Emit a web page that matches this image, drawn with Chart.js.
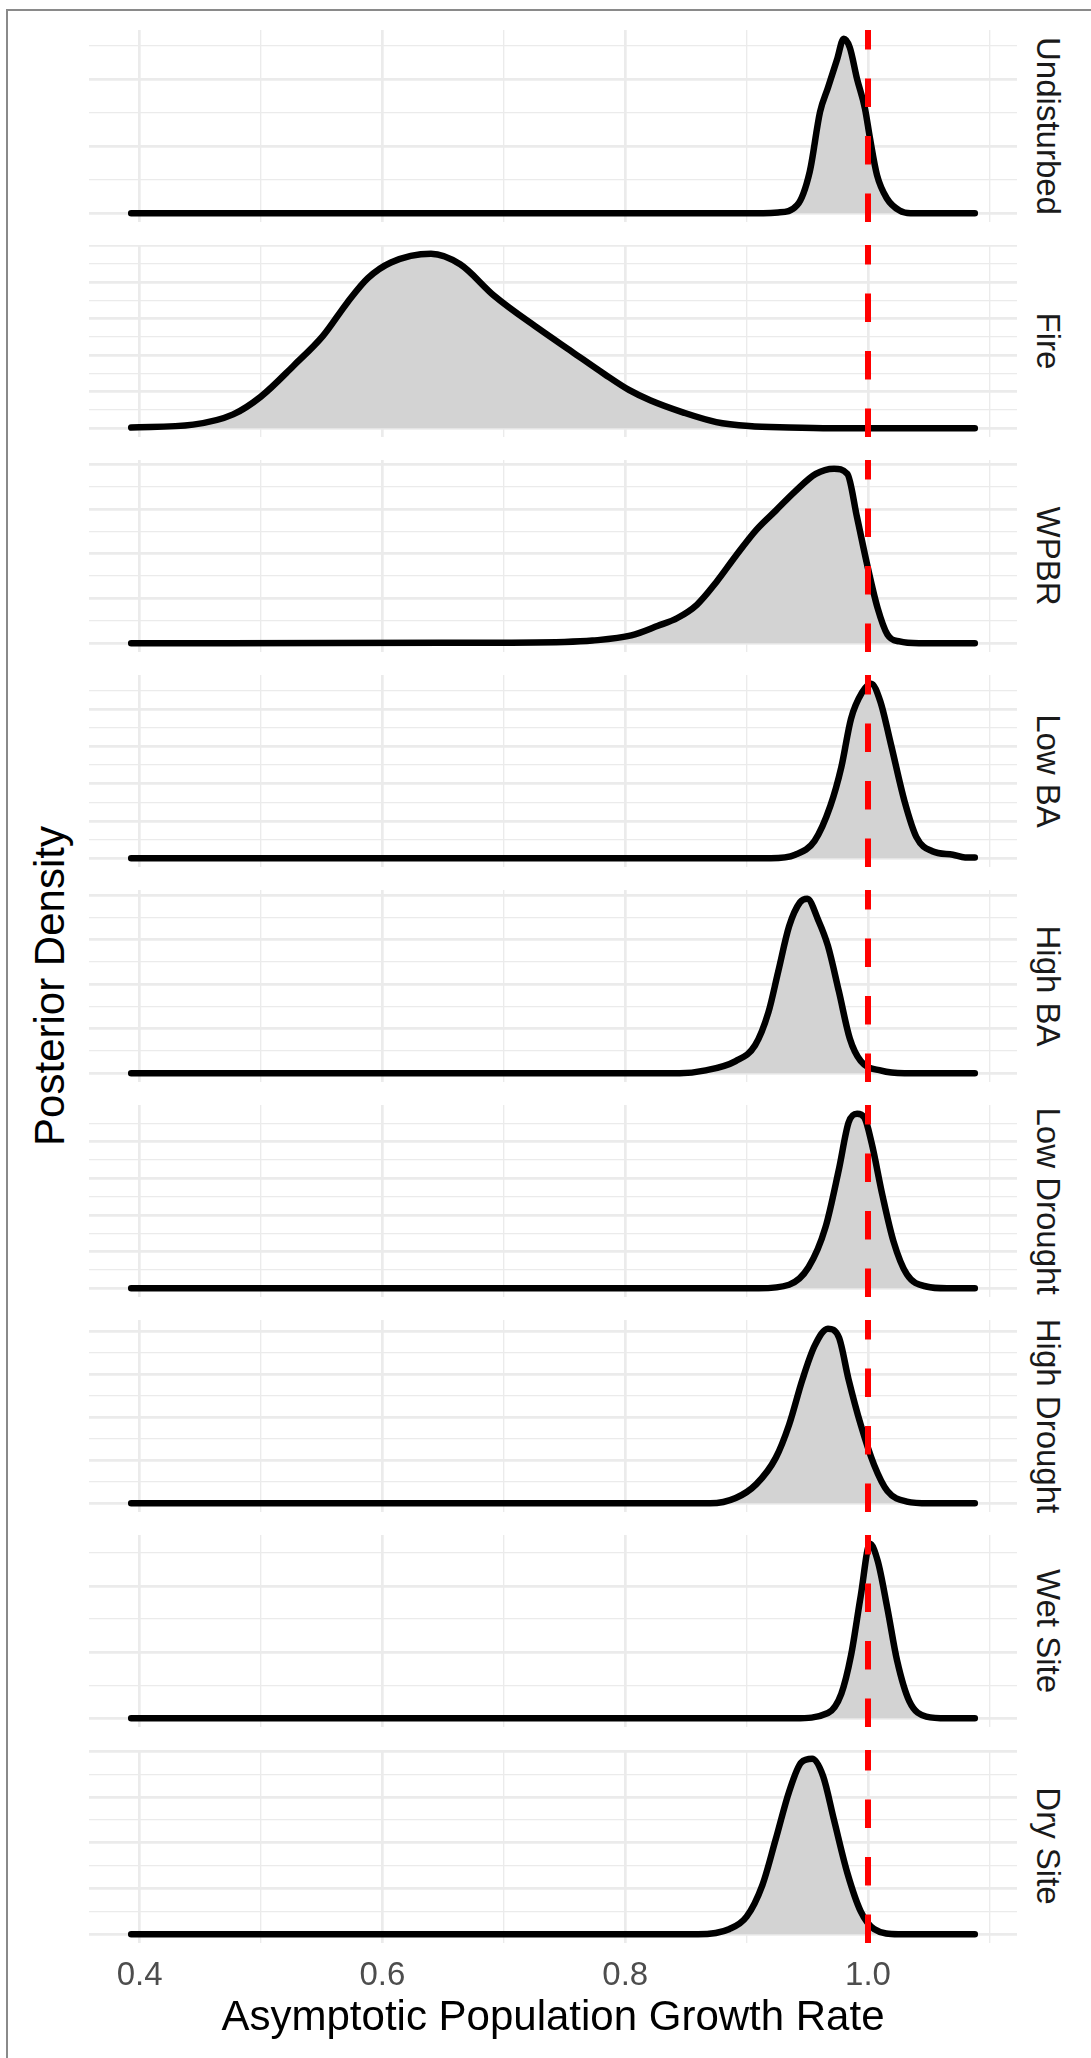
<!DOCTYPE html>
<html>
<head>
<meta charset="utf-8">
<script src="https://cdn.jsdelivr.net/npm/chart.js@4.4.1/dist/chart.umd.min.js"></script>
<style>
  html, body { margin: 0; padding: 0; background: #fff; }
  #page { position: relative; width: 1091px; height: 2058px; overflow: hidden; font-family: "Liberation Sans", Arial, sans-serif; }
  #frame { position: absolute; left: 6px; top: 9px; width: 1200px; height: 2200px; border-left: 2px solid #8a8a8a; border-top: 2px solid #8a8a8a; }
  canvas { position: absolute; left: 89px; }
  .rot { position: absolute; white-space: nowrap; line-height: 1; }
</style>
</head>
<body>
<div id="page"><div id="frame"></div></div>
<script>
const treatments = ["Undisturbed", "Fire", "WPBR", "Low BA", "High BA", "Low Drought", "High Drought", "Wet Site", "Dry Site"];

const undisturbedX = [0.393, 0.90, 0.926, 0.9416, 0.952, 0.9605, 0.967, 0.9745, 0.980, 0.985, 0.991, 0.9975, 1.0016, 1.0074, 1.0156, 1.026, 1.035, 1.088];
const undisturbedY = [0, 0, 0.13, 1.2, 6.2, 15.1, 18.7, 22.9, 26.0, 24.7, 20.0, 15.6, 11.2, 5.7, 2.2, 0.4, 0, 0];

const fireX = [0.393, 0.444, 0.477, 0.4996, 0.527, 0.551, 0.571, 0.588, 0.607, 0.640, 0.664, 0.692, 0.729, 0.756, 0.783, 0.803, 0.821, 0.848, 0.875, 0.902, 0.935, 0.97, 1.088];
const fireY = [0.02, 0.1, 0.38, 0.86, 1.72, 2.53, 3.44, 4.11, 4.54, 4.78, 4.49, 3.63, 2.72, 2.10, 1.48, 1.05, 0.76, 0.43, 0.17, 0.06, 0.02, 0, 0];

const wpbrX = [0.393, 0.65, 0.75, 0.773, 0.805, 0.827, 0.843, 0.859, 0.875, 0.891, 0.908, 0.924, 0.94, 0.957, 0.972, 0.983, 0.991, 0.999, 1.008, 1.016, 1.026, 1.042, 1.088];
const wpbrY = [0, 0.02, 0.06, 0.12, 0.35, 0.78, 1.13, 1.72, 2.73, 3.9, 5.07, 5.93, 6.79, 7.57, 7.8, 7.57, 5.62, 3.59, 1.56, 0.39, 0.08, 0, 0];

const lowBaX = [0.393, 0.92, 0.94, 0.956, 0.969, 0.978, 0.986, 0.995, 1.0026, 1.010, 1.019, 1.03, 1.04, 1.053, 1.07, 1.08, 1.088];
const lowBaY = [0, 0, 0.47, 2.34, 7.02, 12.2, 18.7, 22.2, 23.4, 21.1, 15.2, 7.7, 2.8, 0.94, 0.47, 0.12, 0.12];

const highBaX = [0.393, 0.845, 0.865, 0.891, 0.907, 0.918, 0.926, 0.935, 0.944, 0.950, 0.959, 0.967, 0.976, 0.985, 0.994, 1.011, 1.03, 1.088];
const highBaY = [0, 0, 0.29, 1.37, 3.14, 6.86, 11.4, 16.5, 19.2, 19.6, 17.2, 14.3, 9.2, 3.9, 1.37, 0.29, 0, 0];

const lowDroughtX = [0.393, 0.91, 0.935, 0.951, 0.965, 0.976, 0.984, 0.991, 0.997, 1.003, 1.012, 1.021, 1.032, 1.048, 1.065, 1.088];
const lowDroughtY = [0, 0, 0.48, 2.86, 8.33, 16.2, 22.6, 23.8, 23.3, 19.8, 12.6, 6.4, 1.9, 0.24, 0, 0];

const highDroughtX = [0.393, 0.87, 0.891, 0.908, 0.924, 0.935, 0.946, 0.956, 0.967, 0.976, 0.984, 0.994, 1.005, 1.016, 1.032, 1.05, 1.088];
const highDroughtY = [0, 0, 0.61, 2.23, 5.28, 9.14, 14.4, 18.3, 20.3, 19.3, 14.4, 9.14, 4.47, 1.42, 0.2, 0, 0];

const wetSiteX = [0.393, 0.94, 0.967, 0.978, 0.986, 0.994, 1.0016, 1.008, 1.016, 1.024, 1.034, 1.048, 1.065, 1.088];
const wetSiteY = [0, 0, 0.79, 3.7, 9.5, 18.5, 26.4, 23.8, 16.6, 8.7, 2.6, 0.26, 0, 0];

const drySiteX = [0.393, 0.86, 0.886, 0.9, 0.913, 0.924, 0.935, 0.945, 0.954, 0.963, 0.972, 0.983, 0.994, 1.005, 1.025, 1.088];
const drySiteY = [0, 0, 0.58, 1.92, 5.38, 10.4, 15.6, 18.8, 19.2, 17.3, 12.5, 6.7, 2.5, 0.58, 0, 0];

const seriesX = [undisturbedX, fireX, wpbrX, lowBaX, highBaX, lowDroughtX, highDroughtX, wetSiteX, drySiteX];
const seriesY = [undisturbedY, fireY, wpbrY, lowBaY, highBaY, lowDroughtY, highDroughtY, wetSiteY, drySiteY];

// major y gridline spacing in each panel (minor lines fall halfway)
const yGridStep = [10, 1, 2, 5, 5, 5, 5, 10, 5];

const xMajorTicks = [0.4, 0.6, 0.8, 1.0];
const xMinorTicks = [0.5, 0.7, 0.9, 1.1];
const refValue = 1.0;

const fontFamily = "'Liberation Sans', Arial, sans-serif";
const panelTop = 30;
const panelStep = 215;
const panelH = 192;
const panelW = 928;
const page = document.getElementById("page");

const allX = seriesX.flat();
const xLo = Math.min(...allX);
const xHi = Math.max(...allX);
const xPad = (xHi - xLo) * 0.05;

const refLinePlugin = {
  id: "refLine",
  afterDatasetsDraw(chart) {
    const { ctx, chartArea: a, scales: { x } } = chart;
    const px = x.getPixelForValue(refValue);
    ctx.save();
    ctx.strokeStyle = "#ff0000";
    ctx.lineWidth = 6;
    ctx.setLineDash([28.5, 29]);
    ctx.beginPath();
    ctx.moveTo(px, a.bottom);
    ctx.lineTo(px, a.top);
    ctx.stroke();
    ctx.restore();
  },
};

function isMajor(v, step) {
  const r = v / step;
  return Math.abs(r - Math.round(r)) < 1e-6;
}

function addRotatedText(text, cx, cy, size, color, deg) {
  const el = document.createElement("div");
  el.className = "rot";
  el.textContent = text;
  el.style.left = cx + "px";
  el.style.top = cy + "px";
  el.style.fontSize = size + "px";
  el.style.color = color;
  el.style.transform = `translate(-50%, -50%) rotate(${deg}deg)`;
  page.appendChild(el);
}

function drawPanel(i) {
  const isLast = i === treatments.length - 1;
  const top = panelTop + i * panelStep;
  const canvas = document.createElement("canvas");
  canvas.width = panelW;
  canvas.height = isLast ? panelH + 102 : panelH;
  canvas.style.top = top + "px";
  page.appendChild(canvas);

  const ys = seriesY[i];
  const peak = Math.max(...ys);
  const step = yGridStep[i];

  new Chart(canvas, {
    type: "line",
    data: {
      datasets: [
        {
          data: seriesX[i].map((x, k) => ({ x, y: ys[k] })),
          borderColor: "#000000",
          borderWidth: 6.5,
          backgroundColor: "#d3d3d3",
          fill: "origin",
          pointRadius: 0,
          cubicInterpolationMode: "monotone",
          borderCapStyle: "round",
          borderJoinStyle: "round",
        },
      ],
    },
    options: {
      responsive: false,
      animation: false,
      devicePixelRatio: 1,
      layout: { padding: 0 },
      plugins: { legend: { display: false }, tooltip: { enabled: false } },
      scales: {
        x: {
          type: "linear",
          min: xLo - xPad,
          max: xHi + xPad,
          afterBuildTicks: (s) => {
            s.ticks = [...xMajorTicks, ...xMinorTicks].sort((a, b) => a - b).map((v) => ({ value: v }));
          },
          grid: {
            color: "#ebebeb",
            drawTicks: false,
            lineWidth: (c) => (c.tick && xMajorTicks.includes(c.tick.value) ? 2.7 : 1.35),
          },
          border: { display: false },
          ticks: {
            display: isLast,
            autoSkip: false,
            maxRotation: 0,
            padding: 13,
            color: "#4d4d4d",
            font: { family: fontFamily, size: 33 },
            callback: (v) => (xMajorTicks.includes(v) ? v.toFixed(1) : ""),
          },
          title: {
            display: isLast,
            text: "Asymptotic Population Growth Rate",
            color: "#000000",
            font: { family: fontFamily, size: 42 },
            padding: { top: -15, bottom: 0 },
          },
        },
        y: {
          type: "linear",
          min: -0.05 * peak,
          max: 1.05 * peak,
          afterBuildTicks: (s) => {
            const t = [];
            for (let k = 0; (k * step) / 2 <= s.max + 1e-9; k++) t.push({ value: (k * step) / 2 });
            s.ticks = t;
          },
          grid: {
            color: "#ebebeb",
            drawTicks: false,
            lineWidth: (c) => (c.tick && isMajor(c.tick.value, step) ? 2.7 : 1.35),
          },
          border: { display: false },
          ticks: { display: false },
        },
      },
    },
    plugins: [refLinePlugin],
  });

  addRotatedText(treatments[i], 1048, top + panelH / 2, 33, "#1a1a1a", 90);
}

treatments.forEach((_, i) => drawPanel(i));
addRotatedText("Posterior Density", 50, panelTop + (8 * panelStep + panelH) / 2, 42, "#000000", -90);
</script>
</body>
</html>
